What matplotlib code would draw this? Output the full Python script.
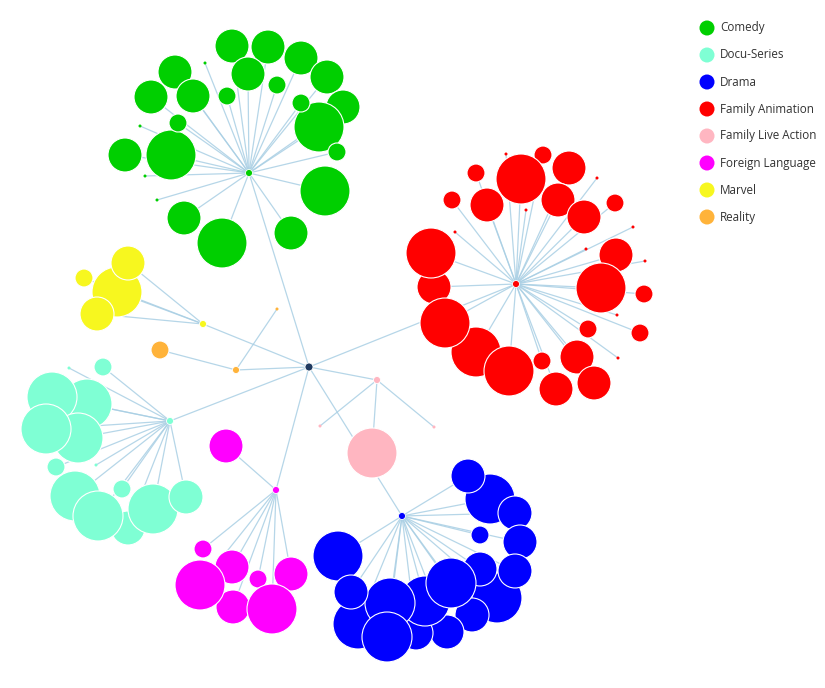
import matplotlib.pyplot as plt
from matplotlib.patches import Circle
from matplotlib.collections import LineCollection

genres = ['Comedy', 'Docu-Series', 'Drama', 'Family Animation',
          'Family Live Action', 'Foreign Language', 'Marvel', 'Reality']
colors = ['#00cf00', '#7fffd4', '#0000ff', '#ff0000',
          '#ffb6c1', '#ff00ff', '#f7f71f', '#ffb33a']

# layout positions of the nodes (screen px)
root = (309, 367)
hubs = {
    'Comedy': (249, 173),
    'Docu-Series': (170, 421),
    'Drama': (402, 516),
    'Family Animation': (516, 284),
    'Family Live Action': (377, 380),
    'Foreign Language': (276, 490),
    'Marvel': (203, 324),
    'Reality': (236, 370),
}

# leaves: (x, y, size level)  level 0 = tiny ... 3 = largest
comedy = [(205, 63, 0), (140, 126, 0), (145, 176, 0), (157, 200, 0),
          (232, 46, 2), (268, 47, 2), (301, 58, 2), (327, 77, 2),
          (343, 107, 2), (319, 127, 3), (301, 103, 1), (337, 152, 1),
          (325, 191, 3), (291, 233, 2), (222, 243, 3), (184, 218, 2),
          (125, 155, 2), (171, 155, 3), (178, 123, 1), (151, 97, 2),
          (175, 72, 2), (193, 96, 2), (227, 96, 1), (248, 74, 2),
          (277, 85, 1)]
family_animation = [(506, 154, 0), (526, 210, 0), (455, 232, 0), (597, 178, 0),
                    (633, 227, 0), (586, 249, 0), (645, 261, 0), (617, 315, 0),
                    (618, 358, 0),
                    (543, 155, 1), (569, 168, 2), (476, 173, 1), (452, 200, 1),
                    (521, 179, 3), (487, 205, 2), (558, 200, 2), (584, 217, 2),
                    (615, 203, 1), (616, 255, 2), (601, 288, 3), (644, 294, 1),
                    (640, 333, 1), (588, 329, 1), (577, 357, 2), (594, 383, 2),
                    (556, 389, 2), (542, 361, 1), (476, 352, 3), (509, 371, 3),
                    (434, 287, 2), (431, 253, 3), (445, 323, 3)]
marvel = [(84, 278, 1), (117, 292, 3), (128, 263, 2), (97, 314, 2)]
reality = [(277, 309, 0), (160, 350, 1)]
docu = [(69, 368, 0), (96, 465, 0),
        (103, 367, 1), (87, 404, 3), (52, 397, 3), (78, 438, 3), (46, 429, 3),
        (56, 467, 1), (75, 496, 3), (128, 528, 2), (98, 516, 3), (122, 489, 1),
        (153, 509, 3), (186, 497, 2)]
foreign = [(226, 446, 2), (203, 549, 1), (232, 567, 2), (258, 579, 1),
           (233, 607, 2), (200, 585, 3), (291, 574, 2), (272, 609, 3)]
live_action = [(320, 426, 0), (434, 427, 0), (372, 453, 3)]
drama = [(338, 556, 3), (490, 499, 3), (468, 476, 2), (515, 513, 2),
         (480, 535, 1), (520, 542, 2), (497, 598, 3), (515, 571, 2),
         (480, 569, 2), (472, 615, 2), (447, 632, 2), (416, 633, 2),
         (425, 601, 3), (451, 583, 3), (358, 624, 3), (390, 603, 3),
         (351, 592, 2), (387, 637, 3)]

leaves = {
    'Comedy': comedy,
    'Docu-Series': docu,
    'Drama': drama,
    'Family Animation': family_animation,
    'Family Live Action': live_action,
    'Foreign Language': foreign,
    'Marvel': marvel,
    'Reality': reality,
}

radius = {0: 1.5, 1: 9, 2: 17, 3: 25}
color_of = dict(zip(genres, colors))

fig = plt.figure(figsize=(8.25, 6.88), dpi=100)
ax = fig.add_axes([0, 0, 1, 1])
ax.set_xlim(0, 825)
ax.set_ylim(688, 0)
ax.set_aspect('equal')
ax.axis('off')

segs = []
for g in genres:
    hx, hy = hubs[g]
    segs.append([root, (hx, hy)])
    for x, y, lv in leaves[g]:
        segs.append([(hx, hy), (x, y)])
ax.add_collection(LineCollection(segs, colors='#a9cfe4', linewidths=0.9,
                                 alpha=0.85, zorder=1))

for g in genres:
    for x, y, lv in leaves[g]:
        ew = 0.8 if lv > 0 else 0
        ax.add_patch(Circle((x, y), radius[lv], facecolor=color_of[g],
                            edgecolor='white', linewidth=ew, zorder=2))
    ax.add_patch(Circle(hubs[g], 3.5, facecolor=color_of[g],
                        edgecolor='white', linewidth=0.6, zorder=3))
ax.add_patch(Circle(root, 4, facecolor='#1f3a60', edgecolor='white',
                    linewidth=0.6, zorder=3))

# legend
for i, g in enumerate(genres):
    ly = 28 + i * 27
    ax.add_patch(Circle((707, ly), 7.5, facecolor=color_of[g],
                        edgecolor='none', zorder=4))
    ax.text(720, ly, g, fontsize=8.4, family='Open Sans', color='#333333',
            va='center', ha='left')

fig.savefig('out.png', dpi=100)
